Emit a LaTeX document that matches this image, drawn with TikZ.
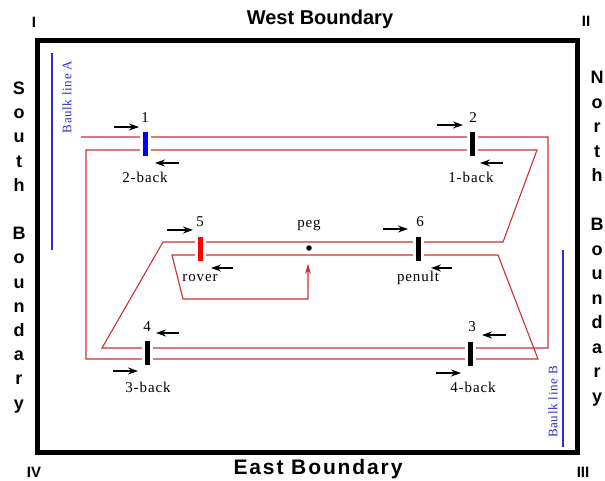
\documentclass[tikz,border=0pt]{standalone}
\usepackage{fontspec}
\setmainfont{Liberation Serif}
\newfontfamily\bsans{Liberation Sans}
\usetikzlibrary{arrows.meta}
\definecolor{trk}{RGB}{205,50,50}
\definecolor{baulk}{RGB}{45,45,200}
\begin{document}
\begin{tikzpicture}[x=1pt,y=-1pt,
  trackline/.style={draw=trk,line width=1.1pt},
  bar/.style={draw=white,line width=3pt,minimum width=8pt,minimum height=27pt,inner sep=0pt},
  lbl/.style={font=\fontsize{15}{15}\selectfont\addfontfeature{LetterSpace=6},inner sep=0pt},
  arr/.style={line width=1.3pt,-{Stealth[length=10pt,width=7pt]}},
  roman/.style={font=\bsans\bfseries\fontsize{15}{15}\selectfont,inner sep=0pt},
  vlet/.style={font=\bsans\bfseries\fontsize{18}{18}\selectfont,inner sep=0pt,anchor=base},
  baulklbl/.style={font=\fontsize{13}{13}\selectfont\addfontfeature{LetterSpace=5},text=baulk,rotate=90,inner sep=0pt},
  baulkline/.style={draw=baulk,line width=1.2pt}]
\useasboundingbox (0,0) rectangle (605,480);
\fill[white] (0,0) rectangle (605,480);

% outer field
\draw[line width=5pt] (37.5,40.5) rectangle (577.5,452.5);

% corner numerals
\node[roman] (cI) at (34,22) {I};
\node[roman] (cII) at (586,21) {II};
\node[roman] (cIII) at (583,472) {III};
\node[roman] (cIV) at (34,472) {IV};

% boundary names
\node[font=\bsans\bfseries\fontsize{20}{20}\selectfont,inner sep=0pt] (west) at (320,19) {West Boundary};
\node[font=\bsans\bfseries\fontsize{21}{21}\selectfont\addfontfeature{LetterSpace=9},inner sep=0pt] (east) at (318,469) {East Boundary};
\foreach \c/\k in {S/0,o/1,u/2,t/3,h/4,B/6,o/7,u/8,n/9,d/10,a/11,r/12,y/13}
  \node[vlet] (south\k) at (19,94.5+\k*24.2) {\c};
\foreach \c/\k in {N/0,o/1,r/2,t/3,h/4,B/6,o/7,u/8,n/9,d/10,a/11,r/12,y/13}
  \node[vlet] (north\k) at (597,83.5+\k*24.5) {\c};

% baulk lines
\coordinate (bAt) at (52,53);
\coordinate (bAb) at (52,250);
\draw[baulkline] (bAt) -- (bAb);
\node[baulklbl] (baulkA) at (67,97) {Baulk line A};
\coordinate (bBt) at (563,250);
\coordinate (bBb) at (563,447);
\draw[baulkline] (bBt) -- (bBb);
\node[baulklbl] (baulkB) at (553,402) {Baulk line B};

% track
\coordinate (t0) at (81,137);
\coordinate (t1) at (548,137);
\coordinate (t2) at (548,348);
\coordinate (t3) at (102,348);
\coordinate (t4) at (163,242);
\coordinate (t5) at (503,242);
\coordinate (t6) at (537,150);
\coordinate (t7) at (86,150);
\coordinate (t8) at (86,359);
\coordinate (t9) at (538,359);
\coordinate (t10) at (498,255);
\coordinate (t11) at (172,255);
\coordinate (t12) at (183,299);
\coordinate (t13) at (308,299);
\coordinate (pa) at (308,264);
\draw[trackline,-{Stealth[length=10pt,width=6pt]}] (t0) -- (t1) -- (t2) -- (t3) -- (t4) -- (t5) -- (t6) -- (t7) -- (t8) -- (t9) -- (t10) -- (t11) -- (t12) -- (t13) -- (pa);

% peg
\node[circle,fill=black,inner sep=0pt,minimum size=5.5pt] (peg) at (309,248) {};
\node[lbl] (peglbl) at (309,225) {peg};

% hoops
\node[bar,fill=blue] (b1) at (145.5,144) {};
\node[bar,fill=black] (b2) at (472.5,144) {};
\node[bar,fill=red] (b5) at (200,249) {};
\node[bar,fill=black] (b6) at (418,249) {};
\node[bar,fill=black] (b4) at (147,353) {};
\node[bar,fill=black] (b3) at (470.5,354) {};

% labels
\node[lbl] (n1) at (145,118) {1};
\node[lbl] (n2) at (473,118) {2};
\node[lbl] (n5) at (200,222) {5};
\node[lbl] (n6) at (420,222) {6};
\node[lbl] (n4) at (147,327) {4};
\node[lbl] (n3) at (472,327) {3};
\node[lbl] (l2b) at (145,177) {2-back};
\node[lbl] (l1b) at (471,177) {1-back};
\node[lbl] (lrov) at (200,278) {rover};
\node[lbl] (lpen) at (418,278) {penult};
\node[lbl] (l3b) at (148,387) {3-back};
\node[lbl] (l4b) at (473,387) {4-back};

% direction arrows
\coordinate (a1s) at (114,127); \coordinate (a1e) at (139,127);
\coordinate (a2s) at (437,125); \coordinate (a2e) at (463,125);
\coordinate (a5s) at (167,230); \coordinate (a5e) at (193,230);
\coordinate (a6s) at (383,229); \coordinate (a6e) at (408,229);
\coordinate (a4s) at (113,371); \coordinate (a4e) at (138,371);
\coordinate (a3s) at (436,373); \coordinate (a3e) at (461,373);
\coordinate (r2s) at (179,163); \coordinate (r2e) at (155,163);
\coordinate (r1s) at (503,163); \coordinate (r1e) at (480,163);
\coordinate (rrs) at (233,268); \coordinate (rre) at (211,268);
\coordinate (rps) at (452,268); \coordinate (rpe) at (431,268);
\coordinate (r4s) at (179,333); \coordinate (r4e) at (156,333);
\coordinate (r3s) at (506,335); \coordinate (r3e) at (482,335);
\foreach \s/\e in {a1s/a1e,a2s/a2e,a5s/a5e,a6s/a6e,a4s/a4e,a3s/a3e,r2s/r2e,r1s/r1e,rrs/rre,rps/rpe,r4s/r4e,r3s/r3e}
  \draw[arr] (\s) -- (\e);
\end{tikzpicture}
\end{document}
